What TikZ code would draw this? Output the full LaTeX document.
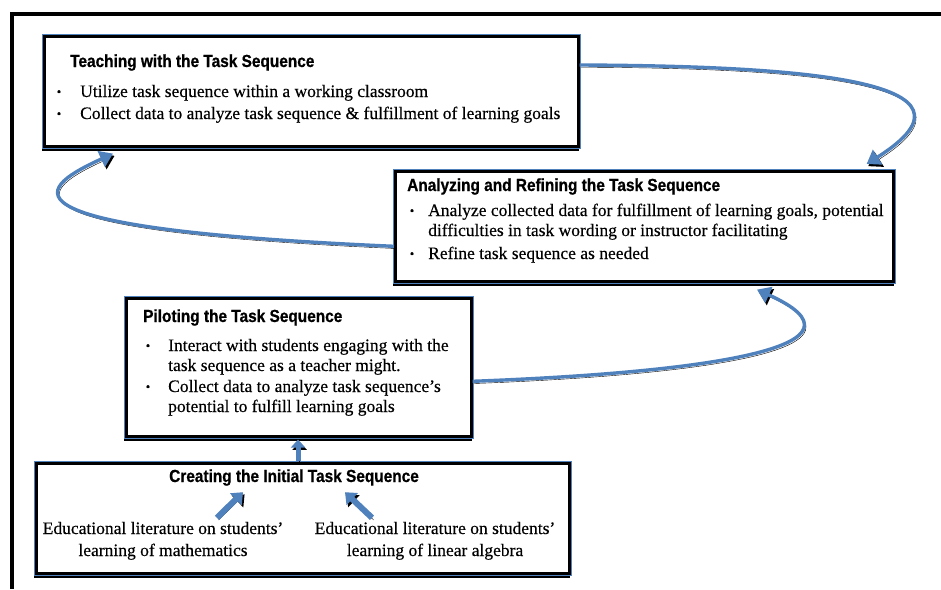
\documentclass[tikz,border=0pt]{standalone}
\usepackage{fontspec}
\setmainfont{Liberation Serif}[FakeBold=0.35]
\newfontfamily\headfont{Liberation Sans}[FakeStretch=0.88, BoldFeatures={FakeStretch=0.88, FakeBold=0.8}]
\usetikzlibrary{arrows.meta,calc}
\definecolor{boxblue}{RGB}{79,129,189}
\definecolor{arrowblue}{RGB}{79,129,189}
\tikzset{
  frameline/.style={draw=black, line width=4pt},
  stage/.style={rectangle, anchor=north west, inner sep=0pt, draw=black, line width=2.6pt, fill=white,
    preaction={fill=black, draw=black, transform canvas={shift={(-1pt,-3pt)}}},
    preaction={draw=boxblue, line width=4.4pt}},
  head/.style={font=\headfont\bfseries\fontsize{17.5}{20}\selectfont, inner sep=0pt, text height=12pt, text depth=4pt},
  body/.style={font=\fontsize{17.5}{21}\selectfont, inner sep=0pt, anchor=west, text height=12pt, text depth=4pt},
  bul/.style={font=\fontsize{12.5}{14}\selectfont, inner sep=0pt},
  flow/.style={draw=arrowblue, line width=3.4pt, -{Triangle[length=13pt, width=17pt]},
    preaction={draw=black, transform canvas={shift={(1.6pt,-2.2pt)}}}},
  fatflow/.style={flow, line width=6pt, -{Triangle[length=10pt, width=16pt]}},
  upflow/.style={flow, line width=5pt, -{Triangle[length=8pt, width=14pt]}},
}
\begin{document}
\begin{tikzpicture}[x=1pt,y=-1pt]
\useasboundingbox (0,0) rectangle (941,589);
\fill[white] (0,0) rectangle (941,589);
% outer frame
\draw[frameline] (10,14) -- (941,14);
\draw[frameline] (12,12) -- (12,589);

% boxes
\node[stage, minimum width=534pt, minimum height=110pt] (T) at (43,35) {};
\node[stage, minimum width=498pt, minimum height=110pt] (A) at (394,170) {};
\node[stage, minimum width=345pt, minimum height=138pt] (P) at (125,297) {};
\node[stage, minimum width=533pt, minimum height=110pt] (C) at (35,462) {};

% Teaching
\node[head, anchor=west] (th) at (70,63) {Teaching with the Task Sequence};
\node[bul] (tb1) at (59,93) {•};
\node[body] (t1) at (80,93) {Utilize task sequence within a working classroom};
\node[bul] (tb2) at (59,115) {•};
\node[body] (t2) at (80,115) {Collect data to analyze task sequence \& fulfillment of learning goals};

% Analyzing
\node[head, anchor=west] (ah) at (407,187) {Analyzing and Refining the Task Sequence};
\node[bul] (ab1) at (412,212) {•};
\node[body] (a1) at (428,212) {Analyze collected data for fulfillment of learning goals, potential};
\node[body] (a2) at (428,232) {difficulties in task wording or instructor facilitating};
\node[bul] (ab2) at (412,255) {•};
\node[body] (a3) at (428,255) {Refine task sequence as needed};

% Piloting
\node[head, anchor=west] (ph) at (143,318) {Piloting the Task Sequence};
\node[bul] (pb1) at (148,347) {•};
\node[body] (p1) at (168,347) {Interact with students engaging with the};
\node[body] (p2) at (168,367) {task sequence as a teacher might.};
\node[bul] (pb2) at (148,388) {•};
\node[body] (p3) at (168,388) {Collect data to analyze task sequence’s};
\node[body] (p4) at (168,408) {potential to fulfill learning goals};

% Creating
\node[head] (ch) at (294,478) {Creating the Initial Task Sequence};
\node[body, anchor=center] (cl1) at (163,530) {Educational literature on students’};
\node[body, anchor=center] (cl2) at (163,552) {learning of mathematics};
\node[body, anchor=center] (cr1) at (435,530) {Educational literature on students’};
\node[body, anchor=center] (cr2) at (435,552) {learning of linear algebra};

% connectors
\draw[flow] ($(T.north east)+(0,30)$) .. controls (800,66) and (1000,80) .. ($(A.north east)+(-28,-6)$);
\draw[flow] ($(A.west)+(0,20)$) .. controls (-30,228) and (45,185) .. ($(T.south west)+(70,6)$);
\draw[flow] ($(P.east)+(0,14)$) .. controls (720,372) and (880,345) .. ($(A.south west)+(363,7)$);
\draw[upflow] ($(C.north west)+(263,-1)$) -- ($(P.south west)+(173,2)$);
\draw[fatflow] ($(cl1.north)+(54,-4)$) -- ($(ch.south)+(-51,6)$);
\draw[fatflow] ($(cr1.north)+(-63,-4)$) -- ($(ch.south)+(51,6)$);
\end{tikzpicture}
\end{document}
